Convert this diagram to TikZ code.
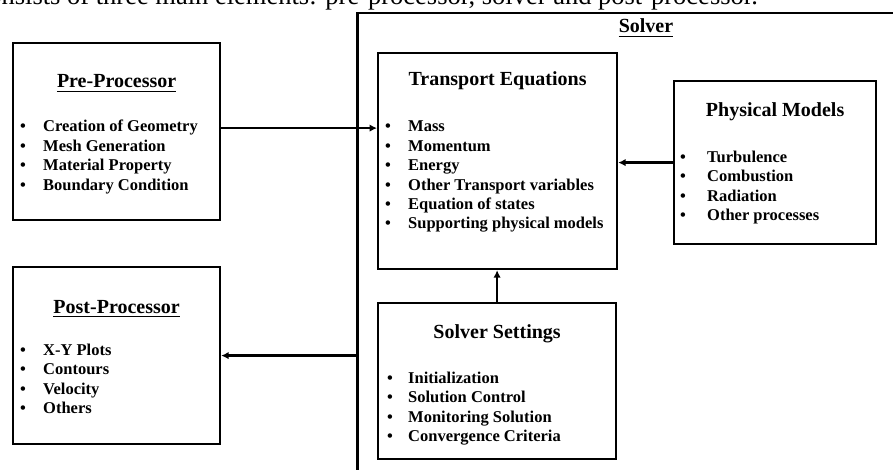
\documentclass[tikz,border=0pt]{standalone}
\usepackage{fontspec}
\setmainfont{Liberation Serif}
\usetikzlibrary{arrows.meta,calc}
\newcommand{\bul}[2][23pt]{\makebox[#1][l]{\textbullet}#2}
\tikzset{
  box/.style={draw, line width=2.2pt, inner sep=0pt, anchor=north west},
  ttl/.style={font=\bfseries\fontsize{20}{20}\selectfont, anchor=base, inner sep=0pt},
  itm/.style={font=\bfseries\fontsize{16.5}{16.5}\selectfont, anchor=base west, inner sep=0pt},
  link/.style={line width=2.4pt, -{Latex[length=7.5pt,width=7.5pt]}},
  uline/.style={line width=1.8pt}
}

\begin{document}
\begin{tikzpicture}[x=1pt,y=-1pt]
    \useasboundingbox (0,0) rectangle (893,470);
    \clip (0,0) rectangle (893,470);
    \node[anchor=base east, inner sep=0pt, font=\fontsize{26.5}{26.5}\selectfont] (intro) at (758,5)
      {consists of three main elements: pre-processor, solver and post-processor.};
    % solver frame runs off the page
    \node[box, line width=2.5pt, minimum width=620pt, minimum height=520pt] (solver) at (356,12) {};
    \node[ttl] (solverT) at (646,33) {Solver};

    \node[box, minimum width=207pt, minimum height=177pt] (pre) at (12,42) {};
    \node[box, minimum width=207pt, minimum height=177pt] (post) at (12,266) {};
    \node[box, minimum width=239pt, minimum height=216pt] (tra) at (377,52) {};
    \node[box, minimum width=202pt, minimum height=163pt] (phy) at (673,80) {};
    \node[box, minimum width=238pt, minimum height=156pt] (set) at (377,302) {};

    \node[ttl] (preT) at ($(pre.north)+(0,46)$) {Pre-Processor};
    \node[ttl] (postT) at ($(post.north)+(0,47)$) {Post-Processor};
    \node[ttl] (traT) at ($(tra.north)+(0,34)$) {Transport Equations};
    \node[ttl] (phyT) at ($(phy.north)+(0,37)$) {Physical Models};
    \node[ttl] (setT) at ($(set.north)+(0,36)$) {Solver Settings};
    \foreach \n in {solverT, preT, postT}
      \draw[uline] ([yshift=-3.5pt]\n.base west) -- ([yshift=-3.5pt]\n.base east);

    \foreach \t [count=\i] in {Creation of Geometry, Mesh Generation, Material Property, Boundary Condition}
      \node[itm] (pre-\i) at ($(pre.north west)+(8,70.5+19.5*\i)$) {\bul{\t}};
    \foreach \t [count=\i] in {X-Y Plots, Contours, Velocity, Others}
      \node[itm] (post-\i) at ($(post.north west)+(8,69.5+19.5*\i)$) {\bul{\t}};
    \foreach \t [count=\i] in {Mass, Momentum, Energy, Other Transport variables, Equation of states, Supporting physical models}
      \node[itm] (tra-\i) at ($(tra.north west)+(8,60.5+19.4*\i)$) {\bul{\t}};
    \foreach \t [count=\i] in {Turbulence, Combustion, Radiation, Other processes}
      \node[itm] (phy-\i) at ($(phy.north west)+(7,62.5+19.6*\i)$) {\bul[27pt]{\t}};
    \foreach \t [count=\i] in {Initialization, Solution Control, Monitoring Solution, Convergence Criteria}
      \node[itm] (set-\i) at ($(set.north west)+(10,61.5+19.6*\i)$) {\bul[21pt]{\t}};

    \coordinate (preA) at ([yshift=3.5pt]pre.east);
    \draw[link] (preA) -- (preA -| tra.west);
    \draw[link] (phy.west) -- (phy.west -| tra.east);
    \draw[link] (set.north) -- (set.north |- tra.south);
    \draw[link] (solver.west |- post.east) -- (post.east);
    % \draw[link] (tra.south) -- (set.north);
\end{tikzpicture}
\end{document}
